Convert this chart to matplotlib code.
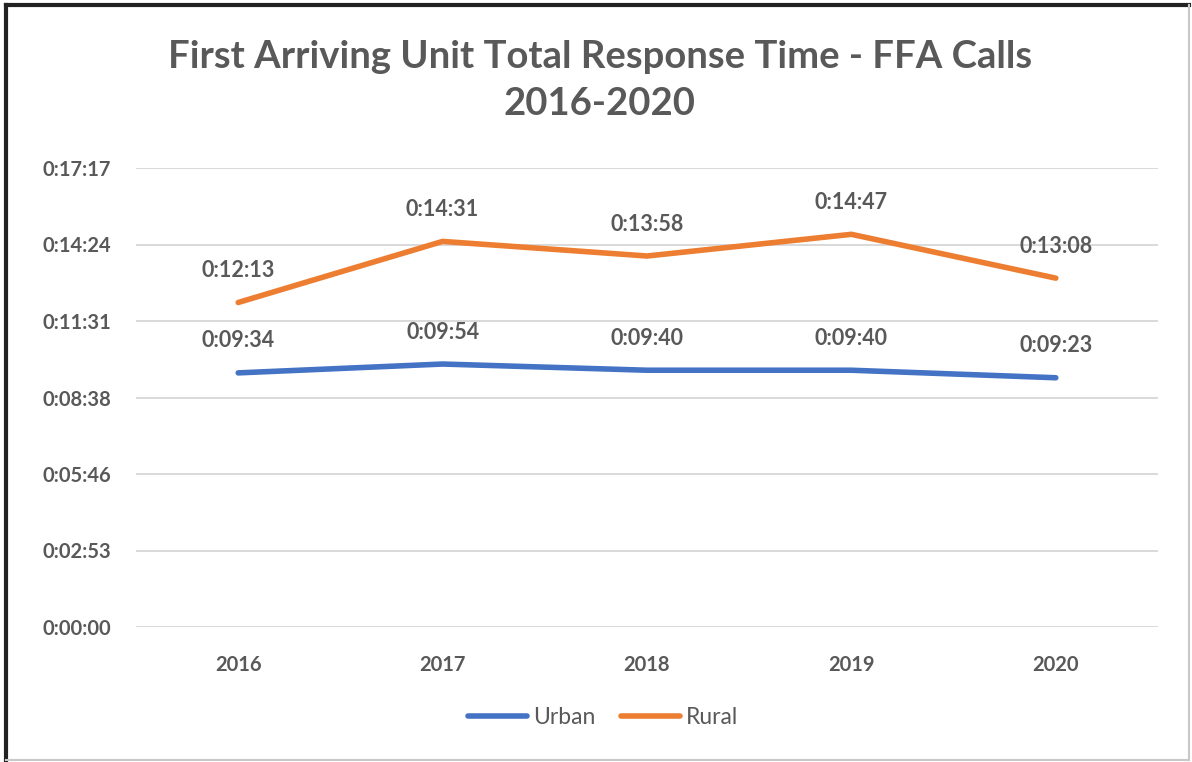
import matplotlib.pyplot as plt
from matplotlib.lines import Line2D
from matplotlib.ticker import FixedLocator, FuncFormatter

plt.rcParams["font.family"] = ["Lato", "DejaVu Sans"]

years = ["2016", "2017", "2018", "2019", "2020"]
# response times in seconds
urban = [9 * 60 + 34, 9 * 60 + 54, 9 * 60 + 40, 9 * 60 + 40, 9 * 60 + 23]
rural = [12 * 60 + 13, 14 * 60 + 31, 13 * 60 + 58, 14 * 60 + 47, 13 * 60 + 8]
# excel time axis: steps of 0.002 day
y_ticks = [i * 172.8 for i in range(7)]

TEXT = "#595959"
BLUE = "#4472C4"
ORANGE = "#ED7D31"


def fmt_time(sec, _pos=None):
    s = int(round(sec))
    return f"{s // 3600}:{(s // 60) % 60:02d}:{s % 60:02d}"


fig = plt.figure(figsize=(11.92, 7.62), dpi=100)
ax = fig.add_axes([136 / 1192, 1 - 627 / 762, (1158 - 136) / 1192, (627 - 168) / 762])

x = list(range(len(years)))
ax.plot(x, urban, color=BLUE, lw=4, solid_capstyle="round", solid_joinstyle="round", label="Urban")
ax.plot(x, rural, color=ORANGE, lw=4, solid_capstyle="round", solid_joinstyle="round", label="Rural")

for series in (urban, rural):
    for xi, v in zip(x, series):
        ax.annotate(fmt_time(v), (xi, v), xytext=(0, 23), textcoords="offset points",
                    ha="center", va="center", fontsize=15.5, fontweight="bold", color=TEXT)

ax.set_xlim(-0.5, len(years) - 0.5)
ax.set_ylim(0, y_ticks[-1])
ax.yaxis.set_major_locator(FixedLocator(y_ticks))
ax.yaxis.set_major_formatter(FuncFormatter(fmt_time))
ax.set_xticks(x)
ax.set_xticklabels(years)
ax.grid(axis="y", color="#D9D9D9", lw=1.4)
ax.set_axisbelow(True)
for sp in ax.spines.values():
    sp.set_visible(False)
ax.tick_params(length=0, colors=TEXT, labelsize=14.5)
ax.tick_params(axis="y", pad=18)
ax.tick_params(axis="x", pad=20)
for lbl in ax.get_xticklabels() + ax.get_yticklabels():
    lbl.set_fontweight("bold")

fig.text(0.503, 1 - 57 / 762, "First Arriving Unit Total Response Time - FFA Calls",
         ha="center", va="center", fontsize=27.5, fontweight="bold", color=TEXT)
fig.text(0.503, 1 - 104 / 762, "2016-2020",
         ha="center", va="center", fontsize=27.5, fontweight="bold", color=TEXT)

leg = fig.legend(loc="center", bbox_to_anchor=(603 / 1192, 1 - 718 / 762), ncol=2,
                 frameon=False, fontsize=16.5, handlelength=2.6, handletextpad=0.25,
                 columnspacing=1.1)
for t in leg.get_texts():
    t.set_color(TEXT)
for h in leg.get_lines():
    h.set_linewidth(4)

# chart frame
fig.add_artist(Line2D([6 / 1192, 6 / 1192], [0, 1 - 5 / 762], transform=fig.transFigure, color="#222222", lw=3))
fig.add_artist(Line2D([6 / 1192, 1189 / 1192], [1 - 5 / 762, 1 - 5 / 762], transform=fig.transFigure, color="#222222", lw=3))
fig.add_artist(Line2D([1189 / 1192, 1189 / 1192], [2 / 762, 1 - 5 / 762], transform=fig.transFigure, color="#C8C8C8", lw=1.5))
fig.add_artist(Line2D([6 / 1192, 1189 / 1192], [2 / 762, 2 / 762], transform=fig.transFigure, color="#C8C8C8", lw=1.5))

fig.savefig("out.png", dpi=100)
